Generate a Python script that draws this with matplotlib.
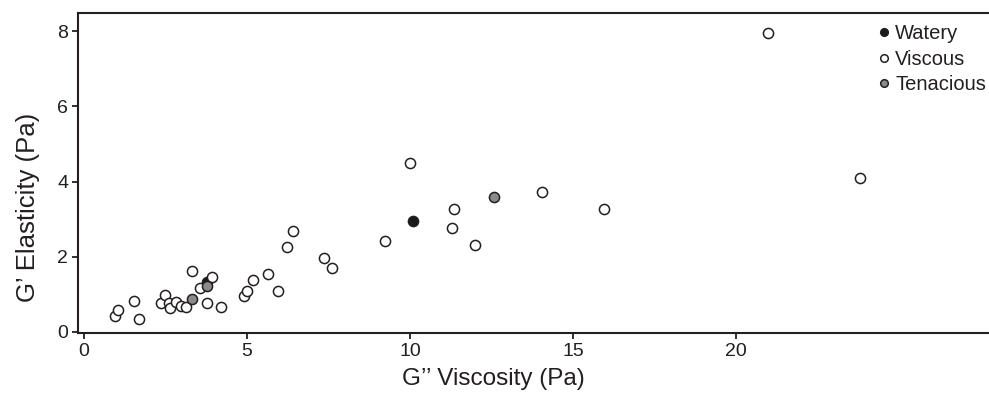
import matplotlib
matplotlib.use('Agg')
import matplotlib.pyplot as plt

plt.rcParams['font.family'] = ['Liberation Sans', 'DejaVu Sans']

# G'' viscosity (x) and G' elasticity (y), Pa
watery_x = [3.79, 10.10]
watery_y = [1.34, 2.95]

viscous_x = [0.95, 1.05, 1.53, 1.69, 2.35, 2.50, 2.61, 2.64, 2.81, 2.97,
             3.12, 3.33, 3.56, 3.92, 3.79, 4.21, 4.92, 5.01, 5.20, 5.66,
             5.95, 6.22, 6.42, 7.37, 7.62, 9.24, 10.00, 11.29, 11.34, 12.00,
             14.06, 15.95, 20.99, 23.80]
viscous_y = [0.42, 0.58, 0.82, 0.35, 0.76, 0.99, 0.77, 0.63, 0.79, 0.69,
             0.65, 1.63, 1.16, 1.47, 0.78, 0.66, 0.95, 1.08, 1.39, 1.55,
             1.08, 2.25, 2.69, 1.96, 1.71, 2.41, 4.50, 2.75, 3.26, 2.30,
             3.71, 3.26, 7.95, 4.10]

tenacious_x = [3.33, 3.79, 12.58]
tenacious_y = [0.87, 1.22, 3.58]

xticks = [0, 5, 10, 15, 20]
yticks = [0, 2, 4, 6, 8]

fig = plt.figure(figsize=(9.89, 3.94), dpi=100)
ax = fig.add_axes([0.0789, 0.1548, 0.9211, 0.812])

edge = '#231f20'
ax.plot(watery_x, watery_y, 'o', ms=7.3, mfc='#1a1a1a', mec=edge, mew=1.1,
        label='Watery', zorder=3)
ax.plot(viscous_x, viscous_y, 'o', ms=7.3, mfc='white', mec=edge, mew=1.1,
        label='Viscous', zorder=4)
ax.plot(tenacious_x, tenacious_y, 'o', ms=7.3, mfc='#8a8a8a', mec=edge, mew=1.1,
        label='Tenacious', zorder=5)

ax.set_xlim(-0.18, 27.76)
ax.set_ylim(-0.03, 8.48)
ax.set_xticks(xticks)
ax.set_yticks(yticks)

for s in ['left', 'top', 'bottom']:
    ax.spines[s].set_linewidth(1.5)
    ax.spines[s].set_color(edge)
ax.spines['right'].set_visible(False)
ax.tick_params(direction='out', length=4, width=1.3, labelsize=14,
               colors=edge, labelcolor='#231f20', pad=3)

ax.set_xlabel('G\u2019\u2019 Viscosity (Pa)', fontsize=17.5, color=edge)
ax.set_ylabel('G\u2019 Elasticity (Pa)', fontsize=18.5, color=edge)
ax.xaxis.set_label_coords(0.456, -0.108)
ax.yaxis.set_label_coords(-0.042, 0.394)

leg = ax.legend(loc='upper left', bbox_to_anchor=(0.866, 1.0), frameon=False,
                fontsize=14.5, markerscale=0.75, handlelength=0.6,
                handletextpad=0.25, labelspacing=0.32, borderaxespad=0.15)
for t in leg.get_texts():
    t.set_color(edge)

fig.savefig('out.png', dpi=100)
